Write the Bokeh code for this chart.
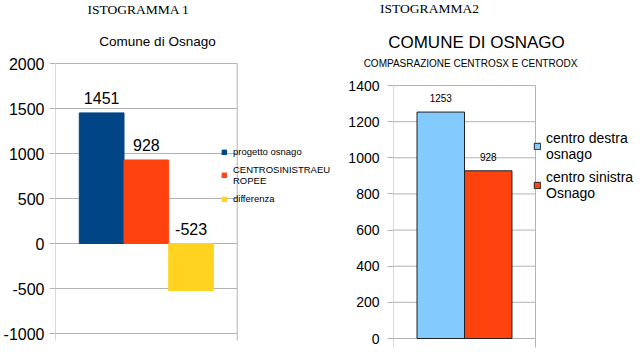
from bokeh.plotting import figure
from bokeh.models import (Range1d, FixedTicker, ColumnDataSource, LabelSet, Label,
                          Legend, LegendItem)
from bokeh.core.properties import value
from bokeh.layouts import row, column
from bokeh.embed import file_html
from bokeh.resources import INLINE
import numpy as np

# ---- data ----
h1_title = "ISTOGRAMMA 1"
h1_subtitle = "Comune di Osnago"
h1_series = ["progetto osnago", "CENTROSINISTRAEU\nROPEE", "differenza"]
h1_values = [1451, 928, -523]
h1_colors = ["#004586", "#ff420e", "#ffd320"]
h1_yticks = [-1000, -500, 0, 500, 1000, 1500, 2000]

h2_title = "ISTOGRAMMA2"
h2_subtitle = "COMUNE DI OSNAGO"
h2_subsub = "COMPASRAZIONE CENTROSX E CENTRODX"
h2_series = ["centro destra\nosnago", "centro sinistra\nOsnago"]
h2_values = [1253, 928]
h2_colors = ["#83caff", "#ff420e"]
h2_yticks = [0, 200, 400, 600, 800, 1000, 1200, 1400]

FONT = "Liberation Sans"
SERIF = "Liberation Serif"
GRID = "#b3b3b3"


def base_fig(width, height, yticks, left_b, plot_w, plot_top, plot_bottom,
             edge_tick, tick_font, standoff):
    """Frame covers the canvas except the left axis border; the chart area
    (category 0..1, ymin..ymax) occupies plot_w px from the frame left,
    plot_top px below the top and plot_bottom px above the bottom."""
    ymin, ymax = min(yticks), max(yticks)
    frame_w = width - left_b
    plot_h = height - plot_top - plot_bottom
    scale = (ymax - ymin) / plot_h
    p = figure(width=width, height=height,
               x_range=Range1d(0, frame_w / plot_w),
               y_range=Range1d(ymin - plot_bottom * scale, ymax + plot_top * scale),
               output_backend="svg", toolbar_location=None, x_axis_location=None,
               min_border_left=left_b, min_border_right=0,
               min_border_top=0, min_border_bottom=0)
    p.frame_align = False
    p.outline_line_color = None
    p.background_fill_color = "white"
    p.border_fill_color = "white"
    p.grid.visible = False
    # y axis
    p.yaxis.ticker = FixedTicker(ticks=yticks)
    p.yaxis.major_label_overrides = {t: str(t) for t in yticks}
    p.yaxis.axis_line_color = None
    p.yaxis.major_tick_line_color = GRID
    p.yaxis.major_tick_out = 6
    p.yaxis.major_tick_in = 0
    p.yaxis.minor_tick_line_color = None
    p.yaxis.major_label_text_font = FONT
    p.yaxis.major_label_text_font_size = tick_font
    p.yaxis.major_label_text_color = "#000000"
    p.yaxis.major_label_standoff = standoff
    # horizontal grid lines limited to the chart area
    p.segment(x0=[0] * len(yticks), x1=[1] * len(yticks), y0=yticks, y1=yticks,
              line_color=GRID, line_width=1)
    # category edge lines, with their tick below the axis
    p.segment(x0=[0, 1], x1=[0, 1], y0=[ymin - edge_tick * scale] * 2, y1=[ymax] * 2,
              line_color=GRID, line_width=1)
    return p


# ---------------- chart 1 ----------------
p1 = base_fig(340, 352, h1_yticks, 53, 183, 63, 19, 7, "16px", 5)
n1 = len(h1_values)
w1 = 0.738 / n1
x1 = [0.5 + (i - (n1 - 1) / 2) * w1 for i in range(n1)]
items1 = []
for xc, v, c, s in zip(x1, h1_values, h1_colors, h1_series):
    r = p1.vbar(x=[xc], top=[v], bottom=0, width=w1, fill_color=c, line_color=c)
    items1.append(LegendItem(label=s, renderers=[r]))
src1 = ColumnDataSource(dict(x=x1, y=np.maximum(h1_values, 0).tolist(),
                             t=[str(v) for v in h1_values]))
p1.add_layout(LabelSet(x="x", y="y", text="t", source=src1, text_align="center",
                       text_baseline="bottom", y_offset=9, text_font=value(FONT),
                       text_font_size="16px", text_color="#000000"))
leg1 = Legend(items=items1, location=(166, 147), padding=0, margin=0,
              border_line_color=None, background_fill_alpha=0,
              glyph_width=6, glyph_height=6, label_standoff=6, spacing=6,
              label_height=13, label_text_font=FONT, label_text_font_size="9.5px",
              label_text_color="#000000", label_text_line_height=1.35)
p1.add_layout(leg1, "center")
p1.add_layout(Label(x=83, y=343, x_units="screen", y_units="screen", text=h1_title,
                    text_font=SERIF, text_font_size="13.5px", text_align="center",
                    text_baseline="middle", text_color="#000000"))
p1.add_layout(Label(x=102, y=311, x_units="screen", y_units="screen", text=h1_subtitle,
                    text_font=FONT, text_font_size="13.5px", text_align="center",
                    text_baseline="middle", text_color="#000000"))

# ---------------- chart 2: titles strip ----------------
t2 = figure(width=300, height=72, x_range=Range1d(0, 300), y_range=Range1d(0, 72),
            output_backend="svg", toolbar_location=None,
            x_axis_type=None, y_axis_type=None, min_border=0)
t2.frame_align = False
t2.outline_line_color = None
t2.grid.visible = False
t2.add_layout(Label(x=89, y=64, x_units="screen", y_units="screen", text=h2_title,
                    text_font=SERIF, text_font_size="13.5px", text_align="center",
                    text_baseline="middle", text_color="#000000"))
t2.add_layout(Label(x=136, y=30, x_units="screen", y_units="screen", text=h2_subtitle,
                    text_font=FONT, text_font_size="17px", text_align="center",
                    text_baseline="middle", text_color="#000000"))
t2.add_layout(Label(x=130, y=9, x_units="screen", y_units="screen", text=h2_subsub,
                    text_font=FONT, text_font_size="10px", text_align="center",
                    text_baseline="middle", text_color="#000000"))

# ---------------- chart 2: plot ----------------
p2 = base_fig(300, 280, h2_yticks, 53, 142, 13, 14, 9, "14px", 8)
n2 = len(h2_values)
w2 = 0.669 / n2
x2 = [0.5 + (i - (n2 - 1) / 2) * w2 for i in range(n2)]
items2 = []
for xc, v, c, s in zip(x2, h2_values, h2_colors, h2_series):
    r = p2.vbar(x=[xc], top=[v], bottom=0, width=w2, fill_color=c,
                line_color="#222222", line_width=1)
    items2.append(LegendItem(label=s, renderers=[r]))
src2 = ColumnDataSource(dict(x=x2, y=h2_values, t=[str(v) for v in h2_values]))
p2.add_layout(LabelSet(x="x", y="y", text="t", source=src2, text_align="center",
                       text_baseline="bottom", y_offset=10, text_font=value(FONT),
                       text_font_size="10px", text_color="#000000"))
leg2 = Legend(items=items2, location=(140, 151), padding=0, margin=0,
              border_line_color=None, background_fill_alpha=0,
              glyph_width=8, glyph_height=8, label_standoff=5, spacing=7,
              label_height=17, label_text_font=FONT, label_text_font_size="14px",
              label_text_color="#000000", label_text_line_height=1.2)
p2.add_layout(leg2, "center")

layout = row(p1, column(t2, p2))
open("out.html", "w").write(file_html(layout, INLINE))
